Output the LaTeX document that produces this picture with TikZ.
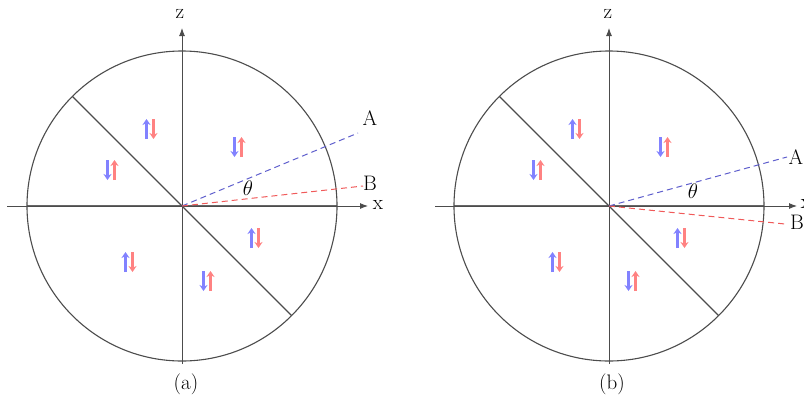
\documentclass[tikz,border=0pt]{standalone}
\usepackage{fix-cm}
\usetikzlibrary{arrows.meta}
\definecolor{dashblue}{RGB}{95,95,205}
\definecolor{dashred}{RGB}{240,90,90}
\definecolor{spinblue}{RGB}{130,130,255}
\definecolor{spinred}{RGB}{255,130,130}
\begin{document}
\begin{tikzpicture}[x=1pt,y=-1pt,
  circ/.style={draw=black!70, line width=1.1pt},
  axisline/.style={draw=black!70, line width=0.9pt, -{Latex[length=8pt,width=6pt]}},
  thickx/.style={draw=black!60, line width=2.6pt},
  diag/.style={draw=black!70, line width=1.2pt},
  dashA/.style={draw=dashblue, line width=1pt, dash pattern=on 6pt off 4pt},
  dashB/.style={draw=dashred, line width=1pt, dash pattern=on 6pt off 4pt},
  lbl/.style={font=\fontsize{21}{23}\selectfont, inner sep=0pt},
  sb/.style={draw=spinblue, line width=2.4pt, -{Stealth[length=6pt,width=8pt]}},
  sr/.style={draw=spinred, line width=2.4pt, -{Stealth[length=6pt,width=8pt]}},
  pics/ud/.style={code={
    \draw[sb] (-3.5,10) -- (-3.5,-10);
    \draw[sr] (3.5,-10) -- (3.5,10);
  }},
  pics/du/.style={code={
    \draw[sb] (-3.5,-10) -- (-3.5,10);
    \draw[sr] (3.5,10) -- (3.5,-10);
  }}
]
\useasboundingbox (0,0) rectangle (804,400);

% ---------- (a) ----------
\coordinate (Ca) at (182,206);
\coordinate (Axl) at (7,206);
\coordinate (Axr) at (368,206);
\coordinate (Azb) at (182,364);
\coordinate (Azt) at (182,28);
\coordinate (Da1) at (72.4,96.4);
\coordinate (Da2) at (291.6,315.6);
\draw[thickx] (27,206) -- (337,206);
\draw[axisline] (Axl) -- (Axr);
\draw[axisline] (Azb) -- (Azt);
\draw[circ] (Ca) circle[radius=155];
\draw[diag] (Da1) -- (Da2);
\coordinate (Aa) at (358,133);
\coordinate (Ba) at (363,186);
\draw[dashA] (Ca) -- (Aa);
\draw[dashB] (Ca) -- (Ba);
\node[lbl] (za) at (180,14) {z};
\node[lbl] (xa) at (378,205) {x};
\node[lbl] (la) at (370,118) {A};
\node[lbl] (lb) at (370,183) {B};
\node[lbl] (tha) at (248,188) {$\theta$};
\node[lbl] (capa) at (186,384) {(a)};
\pic at (150,129) {ud};
\pic at (238,147) {du};
\pic at (111,170) {du};
\pic at (129,262) {ud};
\pic at (255,238) {ud};
\pic at (207,281) {du};

% ---------- (b) ----------
\coordinate (Cb) at (609,206);
\coordinate (Bxl) at (435,206);
\coordinate (Bxr) at (797,206);
\coordinate (Bzb) at (609,364);
\coordinate (Bzt) at (609,28);
\coordinate (Db1) at (499.4,96.4);
\coordinate (Db2) at (718.6,315.6);
\draw[thickx] (454,206) -- (764,206);
\draw[axisline] (Bxl) -- (Bxr);
\draw[axisline] (Bzb) -- (Bzt);
\draw[circ] (Cb) circle[radius=155];
\draw[diag] (Db1) -- (Db2);
\coordinate (Ab) at (787,157);
\coordinate (Bb) at (785,224);
\draw[dashA] (Cb) -- (Ab);
\draw[dashB] (Cb) -- (Bb);
\node[lbl] (zb) at (608,14) {z};
\node[lbl] (xb) at (806,204) {x};
\node[lbl] (lab) at (796,157) {A};
\node[lbl] (lbb) at (797,222) {B};
\node[lbl] (thb) at (693,191) {$\theta$};
\node[lbl] (capb) at (612,384) {(b)};
\pic at (576,129) {ud};
\pic at (664,147) {du};
\pic at (537,170) {du};
\pic at (556,262) {ud};
\pic at (681,238) {ud};
\pic at (632,281) {du};
\end{tikzpicture}
\end{document}
